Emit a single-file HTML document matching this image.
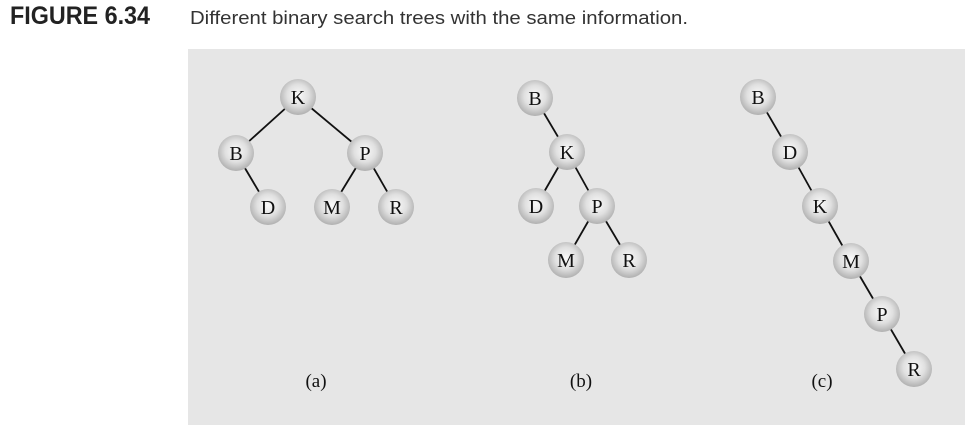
<!DOCTYPE html>
<html><head><meta charset="utf-8"><style>
body{margin:0;width:972px;height:428px;background:#fff;overflow:hidden;font-family:"Liberation Sans",sans-serif}
</style></head><body>
<svg width="972" height="428" xmlns="http://www.w3.org/2000/svg">
<defs><radialGradient id="g" cx="50%" cy="45%" r="55%"><stop offset="0" stop-color="#fafafa"/><stop offset="0.55" stop-color="#e0e0e0"/><stop offset="1" stop-color="#b0b0b0"/></radialGradient></defs>
<text x="10" y="24" font-family="Liberation Sans Narrow,Liberation Sans,sans-serif" font-weight="bold" font-size="25" fill="#222" textLength="140" lengthAdjust="spacingAndGlyphs">FIGURE 6.34</text>
<text x="190" y="24" font-size="18.5" fill="#333" textLength="498" lengthAdjust="spacingAndGlyphs">Different binary search trees with the same information.</text>
<rect x="188" y="49" width="777" height="376" fill="#e6e6e6"/>
<g stroke="#111" stroke-width="1.8">
<line x1="298" y1="97" x2="236" y2="153"/><line x1="298" y1="97" x2="365" y2="153"/>
<line x1="236" y1="153" x2="268" y2="207"/><line x1="365" y1="153" x2="332" y2="207"/><line x1="365" y1="153" x2="396" y2="207"/>
<line x1="535" y1="98" x2="567" y2="152"/><line x1="567" y1="152" x2="536" y2="206"/><line x1="567" y1="152" x2="597" y2="206"/>
<line x1="597" y1="206" x2="566" y2="260"/><line x1="597" y1="206" x2="629" y2="260"/>
<line x1="758" y1="97" x2="790" y2="152"/><line x1="790" y1="152" x2="820" y2="206"/><line x1="820" y1="206" x2="851" y2="261"/>
<line x1="851" y1="261" x2="882" y2="314"/><line x1="882" y1="314" x2="914" y2="369"/>
</g>
<g font-family="Liberation Serif,serif" font-size="20" text-anchor="middle" fill="#111">
<circle cx="298" cy="97" r="18" fill="url(#g)"/><text x="298" y="104">K</text>
<circle cx="236" cy="153" r="18" fill="url(#g)"/><text x="236" y="160">B</text>
<circle cx="365" cy="153" r="18" fill="url(#g)"/><text x="365" y="160">P</text>
<circle cx="268" cy="207" r="18" fill="url(#g)"/><text x="268" y="214">D</text>
<circle cx="332" cy="207" r="18" fill="url(#g)"/><text x="332" y="214">M</text>
<circle cx="396" cy="207" r="18" fill="url(#g)"/><text x="396" y="214">R</text>
<circle cx="535" cy="98" r="18" fill="url(#g)"/><text x="535" y="105">B</text>
<circle cx="567" cy="152" r="18" fill="url(#g)"/><text x="567" y="159">K</text>
<circle cx="536" cy="206" r="18" fill="url(#g)"/><text x="536" y="213">D</text>
<circle cx="597" cy="206" r="18" fill="url(#g)"/><text x="597" y="213">P</text>
<circle cx="566" cy="260" r="18" fill="url(#g)"/><text x="566" y="267">M</text>
<circle cx="629" cy="260" r="18" fill="url(#g)"/><text x="629" y="267">R</text>
<circle cx="758" cy="97" r="18" fill="url(#g)"/><text x="758" y="104">B</text>
<circle cx="790" cy="152" r="18" fill="url(#g)"/><text x="790" y="159">D</text>
<circle cx="820" cy="206" r="18" fill="url(#g)"/><text x="820" y="213">K</text>
<circle cx="851" cy="261" r="18" fill="url(#g)"/><text x="851" y="268">M</text>
<circle cx="882" cy="314" r="18" fill="url(#g)"/><text x="882" y="321">P</text>
<circle cx="914" cy="369" r="18" fill="url(#g)"/><text x="914" y="376">R</text>
<text x="316" y="387" font-size="19">(a)</text><text x="581" y="387" font-size="19">(b)</text><text x="822" y="387" font-size="19">(c)</text>
</g>
</svg>
</body></html>
